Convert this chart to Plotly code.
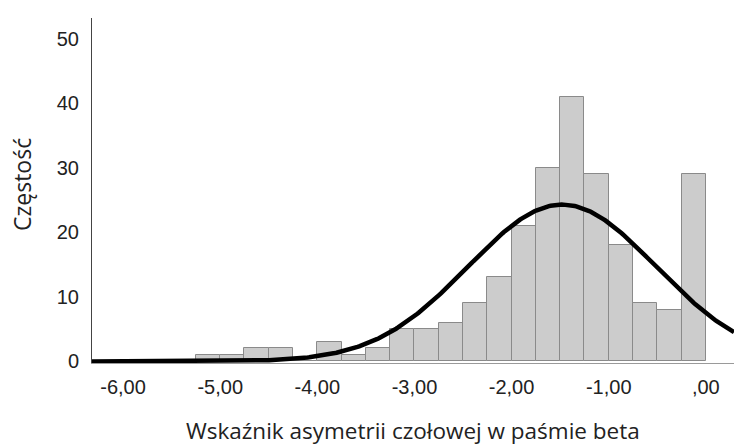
import numpy as np
import plotly.graph_objects as go

# Histogram bins (left edges) and counts
bin_left = [-5.25, -5.0, -4.75, -4.5, -4.25, -4.0, -3.75, -3.5, -3.25, -3.0,
            -2.75, -2.5, -2.25, -2.0, -1.75, -1.5, -1.25, -1.0, -0.75, -0.5, -0.25]
counts = [1, 1, 2, 2, 0, 3, 1, 2, 5, 5,
          6, 9, 13, 21, 30, 41, 29, 18, 9, 8, 29]
bin_width = 0.25

# Fitted normal curve parameters
curve_mean = -1.48
curve_sd = 0.965

x_tickvals = [-6, -5, -4, -3, -2, -1, 0]
x_ticktext = ["-6,00", "-5,00", "-4,00", "-3,00", "-2,00", "-1,00", ",00"]
y_tickvals = [0, 10, 20, 30, 40, 50]
y_ticktext = ["0", "10", "20", "30", "40", "50"]

x_title = "Wskaźnik asymetrii czołowej w paśmie beta"
y_title = "Częstość"

x_range = [-6.32, 0.29]
y_range = [-0.25, 53.2]

n_total = sum(counts)
centers = [b + bin_width / 2 for b in bin_left]

fig = go.Figure()
fig.add_trace(go.Bar(
    x=centers, y=counts, width=bin_width,
    marker=dict(color="#cccccc", line=dict(color="#8a8a8a", width=1)),
    showlegend=False, hoverinfo="skip",
))

xs = np.linspace(x_range[0], x_range[1], 400)
ys = n_total * bin_width / (curve_sd * np.sqrt(2 * np.pi)) * np.exp(-0.5 * ((xs - curve_mean) / curve_sd) ** 2)
fig.add_trace(go.Scatter(
    x=xs, y=ys, mode="lines",
    line=dict(color="#000000", width=4.5),
    showlegend=False, hoverinfo="skip",
))

fig.update_layout(
    width=734, height=446,
    margin=dict(l=92, r=0, t=18, b=83),
    plot_bgcolor="white", paper_bgcolor="white",
    bargap=0,
    font=dict(family="Liberation Sans, Arial, sans-serif", size=20, color="#222222"),
    xaxis=dict(
        range=x_range, tickvals=x_tickvals, ticktext=x_ticktext,
        showgrid=False, zeroline=False,
        showline=True, linecolor="#9a9a9a", linewidth=1,
        ticks="outside", ticklen=6, tickcolor="rgba(0,0,0,0)",
        tickfont=dict(size=20, color="#222222"),
    ),
    yaxis=dict(
        range=y_range, tickvals=y_tickvals, ticktext=y_ticktext,
        showgrid=False, zeroline=False,
        showline=True, linecolor="#444444", linewidth=1,
        ticks="outside", ticklen=8, tickcolor="rgba(0,0,0,0)",
        tickfont=dict(size=20, color="#222222"),
    ),
    annotations=[
        dict(text=x_title, xref="paper", yref="paper", x=0.5, y=0,
             xanchor="center", yanchor="middle", yshift=-67, showarrow=False,
             borderpad=0,
             font=dict(family="Open Sans, sans-serif", size=22.5, color="#222222")),
        dict(text=y_title, xref="paper", yref="paper", x=0, y=0.516,
             xanchor="center", yanchor="middle", xshift=-70, textangle=-90,
             showarrow=False,
             font=dict(family="Open Sans, sans-serif", size=23, color="#222222")),
    ],
)

fig.write_html("out.html")
